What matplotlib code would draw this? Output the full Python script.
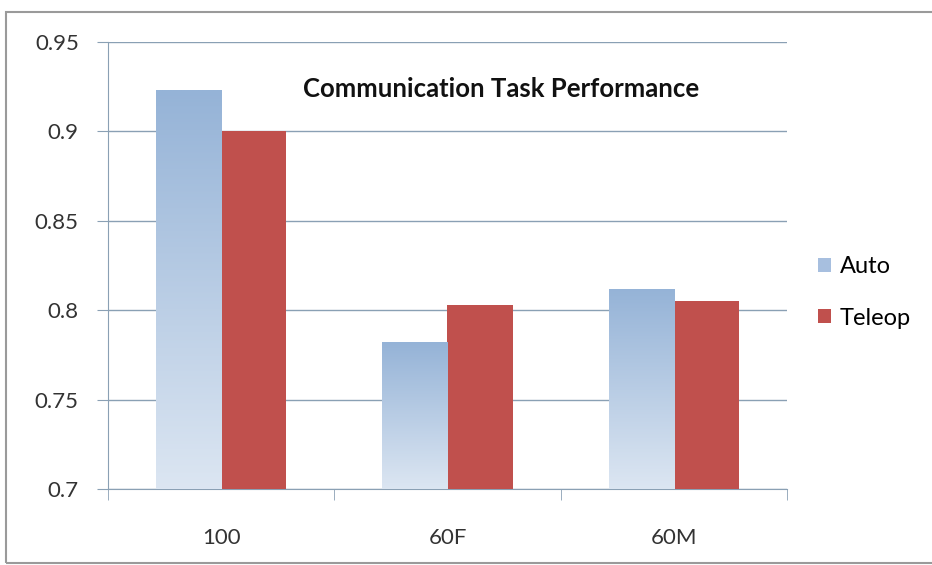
#Importing libraries
import numpy as np
import matplotlib.pyplot as plt
from matplotlib.patches import Rectangle
from matplotlib.colors import LinearSegmentedColormap

#Data
categories = ['100', '60F', '60M']
auto = [0.923, 0.782, 0.812]
teleop = [0.900, 0.803, 0.805]
y_ticks = [0.7, 0.75, 0.8, 0.85, 0.9, 0.95]

plt.rcParams['font.family'] = ['Lato', 'DejaVu Sans']

fig = plt.figure(figsize=(9.32, 5.65), dpi=100)
ax = fig.add_axes([0.1159, 0.1345, 0.7285, 0.7912])

x = np.arange(len(categories))
w = 0.288
bars_auto = ax.bar(x - w / 2, auto, w, color='none', label='Auto', zorder=3)
bars_tel = ax.bar(x + w / 2, teleop, w, color='#c0504d', label='Teleop', zorder=3)

#gradient fill for the blue bars
cmap = LinearSegmentedColormap.from_list('blues', ['#dce6f2', '#95b3d7'])
grad = np.linspace(0, 1, 256).reshape(-1, 1)
for b in bars_auto:
    x0, y0 = b.get_x(), 0.7
    x1, y1 = x0 + b.get_width(), b.get_height()
    im = ax.imshow(grad, cmap=cmap, origin='lower', aspect='auto',
                   extent=[x0, x1, y0, y1], zorder=3)
    im.set_clip_path(b)

ax.set_xlim(-0.5, 2.5)
ax.set_ylim(0.7, 0.95)
ax.set_yticks(y_ticks)
ax.set_yticklabels(['0.7', '0.75', '0.8', '0.85', '0.9', '0.95'])
ax.set_xticks(x)
ax.set_xticklabels(categories)
ax.set_xticks([-0.5, 0.5, 1.5, 2.5], minor=True)

axis_col = '#8aa0b4'
ax.yaxis.grid(True, color=axis_col, linewidth=1.0, zorder=0)
for s in ['top', 'right']:
    ax.spines[s].set_visible(False)
for s in ['left', 'bottom']:
    ax.spines[s].set_color(axis_col)
ax.tick_params(axis='y', length=8, color=axis_col, labelsize=16, labelcolor='#333333', pad=13)
ax.tick_params(axis='x', which='major', length=0, labelsize=16, labelcolor='#333333', pad=28)
ax.tick_params(axis='x', which='minor', length=8, color=axis_col)

ax.text(0.579, 0.895, 'Communication Task Performance', transform=ax.transAxes,
        ha='center', va='center', fontsize=18.5, fontweight='bold', color='#111111')

leg = ax.legend(loc='center left', bbox_to_anchor=(1.015, 0.44), frameon=False,
                fontsize=17, handlelength=0.55, handleheight=0.55, handletextpad=0.35,
                labelspacing=1.3)
leg.legend_handles[0].set_facecolor('#a7bfdf')

#outer chart border
fig.patches.append(Rectangle((6 / 932, 2 / 565), 1.0, 551 / 565, transform=fig.transFigure,
                             fill=False, edgecolor='#9a9a9a', linewidth=1.5))

fig.savefig('out.png', dpi=100)
